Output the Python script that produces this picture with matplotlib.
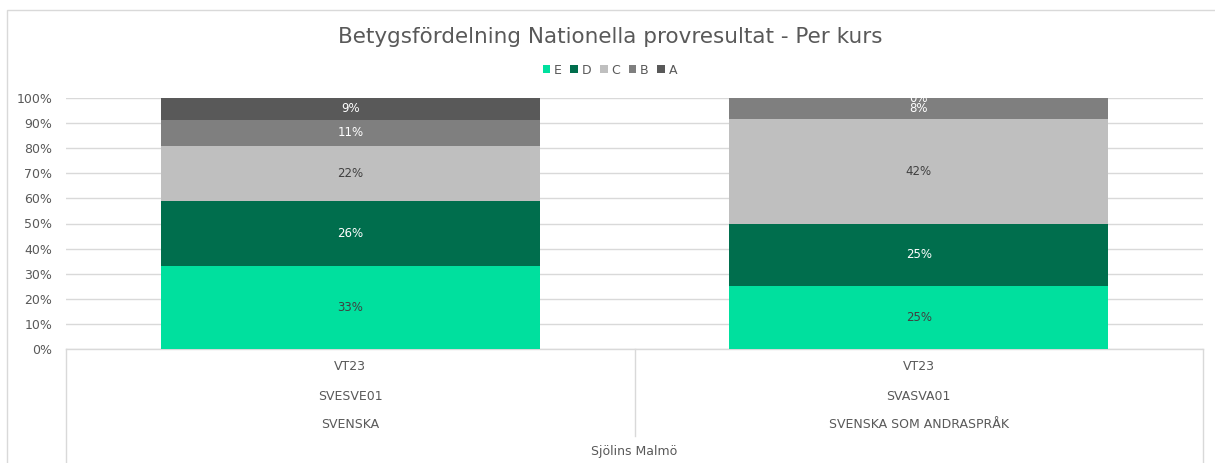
import numpy as np
import matplotlib
matplotlib.use("Agg")
import matplotlib.pyplot as plt
from matplotlib.patches import Patch, Rectangle
from matplotlib.ticker import PercentFormatter

# Data
terms = ["VT23", "VT23"]
courses = ["SVESVE01", "SVASVA01"]
subjects = ["SVENSKA", "SVENSKA SOM ANDRASPRÅK"]
school = "Sjölins Malmö"
grades = ["E", "D", "C", "B", "A"]
share_E = [0.330, 0.250]
share_D = [0.258, 0.250]
share_C = [0.220, 0.417]
share_B = [0.106, 0.083]
share_A = [0.086, 0.000]

colors = ["#00E09E", "#006E4D", "#BFBFBF", "#7F7F7F", "#595959"]
label_colors = ["#404040", "white", "#404040", "white", "white"]
text_gray = "#595959"

plt.rcParams["font.family"] = ["DejaVu Sans"]

W, H = 1215, 463
fig = plt.figure(figsize=(W / 100, H / 100), dpi=100)

# chart border (right and bottom edges fall outside the picture)
fig.patches.append(Rectangle((7 / W, -0.05), 1.2, 1 - 10 / H + 0.05, transform=fig.transFigure,
                             fill=False, edgecolor="#D9D9D9", linewidth=1))

left, right, top, bottom = 66, 1203, 98, 349
ax = fig.add_axes([left / W, 1 - bottom / H, (right - left) / W, (bottom - top) / H])

series = [share_E, share_D, share_C, share_B, share_A]
x = np.arange(len(courses))
base = np.zeros(len(courses))
for vals, col, lc in zip(series, colors, label_colors):
    vals = np.array(vals)
    ax.bar(x, vals, 0.667, bottom=base, color=col, zorder=3)
    for xi, b, v in zip(x, base, vals):
        ax.text(xi, b + v / 2, f"{v * 100:.0f}%", ha="center", va="center",
                color=lc, fontsize=8.5, zorder=4)
    base = base + vals

ax.set_xlim(-0.5, len(courses) - 0.5)
ax.set_ylim(0, 1)
ax.set_yticks(np.arange(0, 1.01, 0.1))
ax.yaxis.set_major_formatter(PercentFormatter(1.0, decimals=0))
ax.tick_params(axis="y", length=0, labelsize=9, labelcolor=text_gray, pad=10)
ax.set_xticks([])
ax.grid(axis="y", color="#D9D9D9", linewidth=1, zorder=0)
for s in ax.spines.values():
    s.set_visible(False)

# multi-level category axis
ppu = bottom - top  # pixels per unit
def ypix(p):
    return -(p - bottom) / ppu

line_kw = dict(color="#D9D9D9", linewidth=1, clip_on=False, zorder=1)
ax.plot([-0.5, len(courses) - 0.5], [0, 0], **line_kw)
ax.plot([-0.5, -0.5], [0, ypix(470)], **line_kw)
ax.plot([len(courses) - 0.5] * 2, [0, ypix(470)], **line_kw)
ax.plot([0.5, 0.5], [0, ypix(436)], **line_kw)

for xi in x:
    ax.text(xi, ypix(367), terms[xi], ha="center", va="center", fontsize=9, color=text_gray)
    ax.text(xi, ypix(397), courses[xi], ha="center", va="center", fontsize=9, color=text_gray)
    ax.text(xi, ypix(424), subjects[xi], ha="center", va="center", fontsize=9, color=text_gray)
ax.text((len(courses) - 1) / 2, ypix(452), school, ha="center", va="center", fontsize=9, color=text_gray)

fig.text(0.502, 1 - 37 / H, "Betygsfördelning Nationella provresultat - Per kurs",
         ha="center", va="center", fontsize=15.5, color=text_gray)

handles = [Patch(facecolor=c, edgecolor="none") for c in colors]
fig.legend(handles, grades, loc="center", bbox_to_anchor=(0.502, 1 - 70 / H), ncol=5,
           frameon=False, fontsize=9, handlelength=0.6, handleheight=0.6,
           handletextpad=0.3, columnspacing=0.7, labelcolor=text_gray)

fig.savefig("out.png", dpi=100)
